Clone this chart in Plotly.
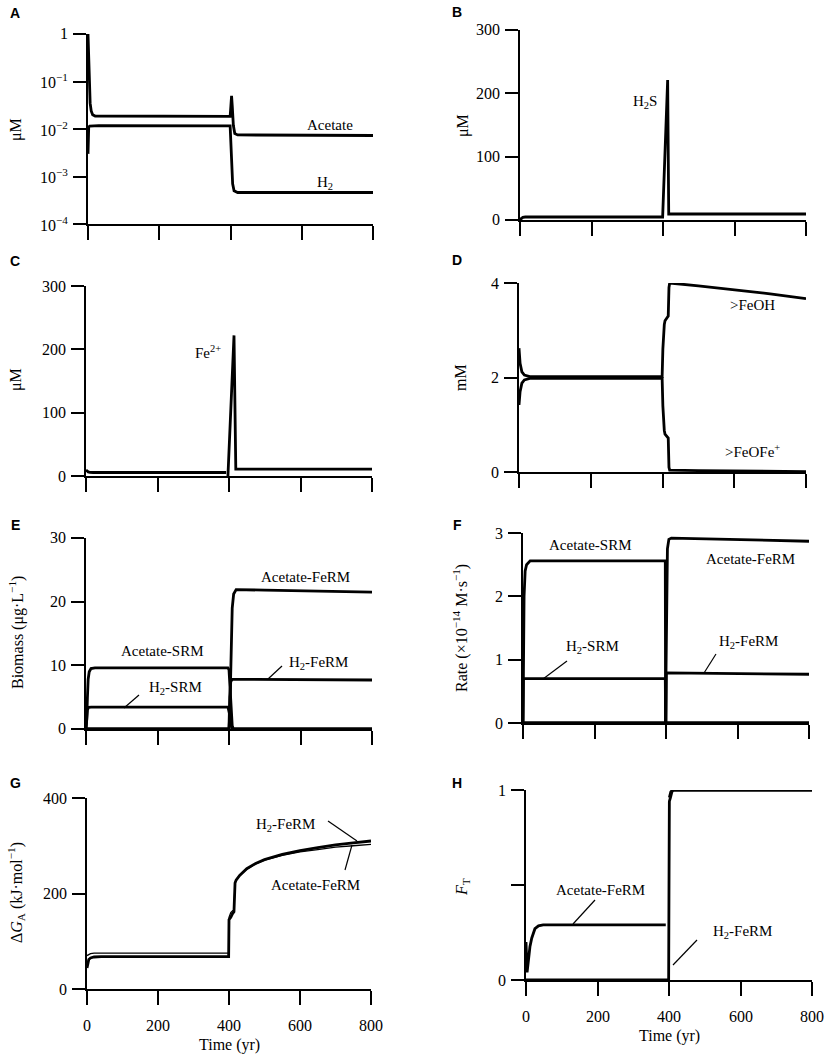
import math

import plotly.graph_objects as go

W, H = 825, 1054

# ---------------- data ----------------
TIME_TICKS = [0, 200, 400, 600, 800]
TIME_LABELS = ["0", "200", "400", "600", "800"]

# A: acetate and H2 (uM, log scale)
a_acetate_t = [0, 1, 2, 3, 4, 6, 9, 13, 20, 100, 398, 399, 401, 403, 405, 408, 412, 420, 800]
a_acetate = [1.0, 0.6, 0.3, 0.15, 0.07, 0.035, 0.024, 0.02, 0.0188, 0.0186, 0.0185, 0.0185,
             0.03, 0.05, 0.03, 0.012, 0.008, 0.0075, 0.0073]
a_h2_t = [0, 1, 2, 5, 30, 399, 401, 403, 406, 410, 420, 800]
a_h2 = [0.003, 0.008, 0.011, 0.0115, 0.0118, 0.0116, 0.005, 0.0015, 0.0007, 0.0005, 0.00046, 0.00046]

# B: H2S (uM)
b_h2s_t = [0, 3, 8, 15, 399, 413, 416, 800]
b_h2s = [0.5, 2.5, 4.2, 4.7, 4.7, 221, 9.5, 9.5]

# C: Fe2+ (uM)
c_fe_t = [0, 3, 6, 11, 20, 392, 393, 397, 414, 419, 800]
c_fe = [9.5, 7.5, 6.5, 5.8, 5.5, 5.5, None, 0, 222, 11, 11]

# D: surface sites (mM)
d_t = [0, 3, 8, 15, 30, 50, 399, 401, 403, 405, 407, 412, 416, 418, 420, 500, 600, 700, 800]
d_feoh = [2.62, 2.3, 2.12, 2.05, 2.02, 2.02, 2.02, 2.6, 2.95, 3.12, 3.2, 3.25, 3.3, 3.9, 4.0,
          3.94, 3.86, 3.77, 3.67]
d_feofe = [1.42, 1.7, 1.88, 1.95, 1.98, 1.98, 1.98, 1.4, 1.05, 0.88, 0.8, 0.76, 0.72, 0.1, 0.04,
           0.03, 0.02, 0.01, 0.01]

# E: biomass (ug/L)
e_ac_srm_t = [0, 2, 4, 6, 9, 14, 25, 397, 400, 403, 406, 409, 412, 800]
e_ac_srm = [0, 1.5, 5, 7.8, 9.0, 9.5, 9.6, 9.6, 9.3, 6, 2, 0.5, 0, 0]
e_h2_srm_t = [0, 2, 4, 7, 15, 397, 401, 405, 409, 800]
e_h2_srm = [0, 1.5, 3.0, 3.4, 3.45, 3.45, 2.5, 0.8, 0, 0]
e_ac_ferm_t = [0, 400, 402, 404, 406, 409, 413, 420, 500, 800]
e_ac_ferm = [0, 0, 2, 8, 14, 19, 21.2, 21.9, 21.8, 21.5]
e_h2_ferm_t = [0, 400, 402, 405, 410, 800]
e_h2_ferm = [0, 0, 5, 7.5, 7.8, 7.7]

# F: rates (1e-14 M/s)
f_ac_srm_t = [0, 1, 3, 6, 10, 20, 398, 399, 800]
f_ac_srm = [0, 0.75, 2.0, 2.4, 2.5, 2.56, 2.56, 0, 0]
f_h2_srm_t = [0, 1, 398, 399, 800]
f_h2_srm = [0, 0.7, 0.7, 0, 0]
f_ac_ferm_t = [0, 399, 400, 402, 404, 408, 415, 800]
f_ac_ferm = [0, 0, 0.8, 2.0, 2.75, 2.9, 2.92, 2.87]
f_h2_ferm_t = [0, 400, 401, 800]
f_h2_ferm = [0, 0, 0.79, 0.77]

# G: energy available (kJ/mol)
g_t = [0, 2, 5, 10, 20, 40, 399, 400, 405, 410, 414, 417, 420, 430, 450, 475, 500, 550, 600,
       650, 700, 750, 800]
g_h2_ferm = [44, 55, 62, 65, 67, 68, 68, 145, 150, 158, 162, 222, 228, 238, 252, 263, 271, 282,
             290, 296, 302, 306, 310]
g_ac_ferm = [70, 71, 72, 74, 75, 75, 75, 150, 160, 164, 165, 222, 228, 238, 251, 262, 270, 280,
             287, 292, 297, 300, 303]

# H: thermodynamic factor
h_ac_t = [0, 1, 3, 6, 11, 16, 25, 35, 48, 391, 395, 401, 405, 410, 800]
h_ac_ferm = [0.2, 0.06, 0.04, 0.09, 0.175, 0.22, 0.27, 0.285, 0.29, 0.29, None, 0.96, 0.99, 1.0, 1.0]
h_h2_t = [0, 399, 400, 401, 404, 408, 412, 800]
h_h2_ferm = [0, 0, 0.5, 0.94, 0.96, 0.99, 1.0, 1.0]

# ---------------- layout (pixel boxes of each panel) ----------------
# panel: (left, right, top, bottom)
BOX = {
    "A": (88, 373, 34, 224), "B": (520, 806, 30, 220),
    "C": (86, 372, 286, 476), "D": (519, 806, 283, 472),
    "E": (86, 372, 538, 729), "F": (523, 809, 533, 723),
    "G": (87, 371, 798, 989), "H": (526, 812, 790, 980),
}
ORDER = list("ABCDEFGH")
SERIF = "Liberation Serif"


def px(x, y):
    return x / W, 1 - y / H


def suffix(panel):
    i = ORDER.index(panel) + 1
    return "" if i == 1 else str(i)


fig = go.Figure()


def add_line(panel, t, v, width=2.8):
    s = suffix(panel)
    fig.add_trace(go.Scatter(
        x=t, y=v, mode="lines", line=dict(color="black", width=width),
        xaxis=f"x{s}", yaxis=f"y{s}", showlegend=False, hoverinfo="skip",
    ))


add_line("A", a_acetate_t, a_acetate)
add_line("A", a_h2_t, a_h2)
add_line("B", b_h2s_t, b_h2s)
add_line("C", c_fe_t, c_fe)
add_line("D", d_t, d_feoh)
add_line("D", d_t, d_feofe)
add_line("E", e_ac_srm_t, e_ac_srm)
add_line("E", e_h2_srm_t, e_h2_srm)
add_line("E", e_ac_ferm_t, e_ac_ferm)
add_line("E", e_h2_ferm_t, e_h2_ferm)
add_line("F", f_ac_srm_t, f_ac_srm)
add_line("F", f_h2_srm_t, f_h2_srm)
add_line("F", f_ac_ferm_t, f_ac_ferm)
add_line("F", f_h2_ferm_t, f_h2_ferm)
add_line("G", g_t, g_ac_ferm, width=1.3)
add_line("G", g_t, g_h2_ferm)
add_line("H", h_ac_t, h_ac_ferm)
add_line("H", h_h2_t, h_h2_ferm)

y_specs = {
    "A": dict(type="log", range=[-4, 0], tickvals=[1e-4, 1e-3, 1e-2, 1e-1, 1],
              ticktext=["10<sup>−4</sup>", "10<sup>−3</sup>", "10<sup>−2</sup>", "10<sup>−1</sup>", "1"]),
    "B": dict(range=[0, 300], tickvals=[0, 100, 200, 300]),
    "C": dict(range=[0, 300], tickvals=[0, 100, 200, 300]),
    "D": dict(range=[0, 4], tickvals=[0, 2, 4]),
    "E": dict(range=[0, 30], tickvals=[0, 10, 20, 30]),
    "F": dict(range=[0, 3], tickvals=[0, 1, 2, 3]),
    "G": dict(range=[0, 400], tickvals=[0, 200, 400]),
    "H": dict(range=[0, 1], tickvals=[0, 0.5, 1], ticktext=["0", "", "1"]),
}

tick_font = dict(family=SERIF, size=16, color="black")
layout = {}
annotations = []
for p in ORDER:
    s = suffix(p)
    l, r, t, b = BOX[p]
    x0, y1 = px(l, t)
    x1, y0 = px(r, b)
    spec = y_specs[p]
    layout[f"xaxis{s}"] = dict(
        domain=[x0, x1], anchor=f"y{s}", range=[0, 800], tickvals=TIME_TICKS,
        showticklabels=False,
        ticks="outside", ticklen=14, tickwidth=1.5, tickcolor="black",
        showline=True, linecolor="black", linewidth=1.5,
        showgrid=False, zeroline=False,
    )
    layout[f"yaxis{s}"] = dict(
        domain=[y0, y1], anchor=f"x{s}", type=spec.get("type", "linear"),
        range=spec["range"], tickvals=spec["tickvals"], showticklabels=False,
        ticks="outside", ticklen=13, tickwidth=1.5, tickcolor="black",
        showline=True, linecolor="black", linewidth=1.5,
        showgrid=False, zeroline=False,
    )
    # tick labels are written as annotations on the axes so the serif face is kept
    texts = spec.get("ticktext", [f"{v:g}" for v in spec["tickvals"]])
    for v, txt in zip(spec["tickvals"], texts):
        if not txt:
            continue
        yv = math.log10(v) if spec.get("type") == "log" else v
        annotations.append(dict(
            xref=f"x{s} domain", x=0, yref=f"y{s}", y=yv, text=txt, showarrow=False,
            xanchor="right", yanchor="middle", xshift=-18, font=tick_font,
        ))
    if p in ("G", "H"):
        for v, txt in zip(TIME_TICKS, TIME_LABELS):
            annotations.append(dict(
                xref=f"x{s}", x=v, yref=f"y{s} domain", y=0, text=txt, showarrow=False,
                xanchor="center", yanchor="middle", yshift=-36, font=tick_font,
            ))

fig.update_layout(
    width=W, height=H, margin=dict(l=0, r=0, t=0, b=0),
    paper_bgcolor="white", plot_bgcolor="white",
    font=dict(family=SERIF, size=15, color="black"),
    **layout,
)


def note(x, y, text, size=15, angle=0, family=SERIF):
    ax, ay = px(x, y)
    annotations.append(dict(
        x=ax, y=ay, xref="paper", yref="paper", text=text, showarrow=False,
        font=dict(family=family, size=size, color="black"),
        textangle=angle, xanchor="center", yanchor="middle",
    ))


# panel letters
for p, (x, y) in {"A": (15, 13), "B": (457, 12), "C": (15, 261), "D": (457, 260),
                  "E": (15, 525), "F": (457, 525), "G": (15, 783), "H": (457, 783)}.items():
    note(x, y, f"<b>{p}</b>", size=14, family="Liberation Sans")

# axis titles
note(16, 130, "μM", size=16, angle=-90)
note(463, 125, "μM", size=16, angle=-90)
note(16, 380, "μM", size=16, angle=-90)
note(460, 378, "mM", size=16, angle=-90)
note(16, 633, "Biomass (μg·L<sup>−1</sup>)", size=16, angle=-90)
note(460, 628, "Rate (×10<sup>−14</sup> M·s<sup>−1</sup>)", size=16, angle=-90)
note(16, 893, "Δ<i>G</i><sub>A</sub> (kJ·mol<sup>−1</sup>)", size=16, angle=-90)
note(462, 887, "<i>F</i><sub>T</sub>", size=16, angle=-90)
note(229, 1045, "Time (yr)", size=16)
note(669, 1036, "Time (yr)", size=16)

# curve labels
note(330, 125, "Acetate")
note(325, 183, "H<sub>2</sub>")
note(645, 102, "H<sub>2</sub>S")
note(208, 352, "Fe<sup>2+</sup>")
note(752, 305, "&gt;FeOH")
note(752, 451, "&gt;FeOFe<sup>+</sup>")
note(305, 577, "Acetate-FeRM")
note(162, 651, "Acetate-SRM")
note(318, 663, "H<sub>2</sub>-FeRM")
note(175, 688, "H<sub>2</sub>-SRM")
note(590, 545, "Acetate-SRM")
note(750, 559, "Acetate-FeRM")
note(592, 647, "H<sub>2</sub>-SRM")
note(748, 642, "H<sub>2</sub>-FeRM")
note(285, 825, "H<sub>2</sub>-FeRM")
note(315, 885, "Acetate-FeRM")
note(600, 890, "Acetate-FeRM")
note(742, 932, "H<sub>2</sub>-FeRM")

# leader lines for the labels
leaders = [
    (268, 679, 282, 666), (124, 708, 139, 695),
    (543, 679, 567, 661), (704, 673, 716, 654),
    (328, 821, 357, 841), (345, 870, 352, 845),
    (573, 924, 595, 900), (673, 965, 697, 940),
]
shapes = []
for x0, y0, x1, y1 in leaders:
    a0, b0 = px(x0, y0)
    a1, b1 = px(x1, y1)
    shapes.append(dict(type="line", xref="paper", yref="paper", x0=a0, y0=b0, x1=a1, y1=b1,
                       line=dict(color="black", width=1.2)))

fig.update_layout(annotations=annotations, shapes=shapes)

# the page is photographed at exactly the figure size, so drop the default body margin
fig.write_html(
    "out.html",
    config={"displayModeBar": False},
    post_script="document.body.style.margin = '0';",
)
